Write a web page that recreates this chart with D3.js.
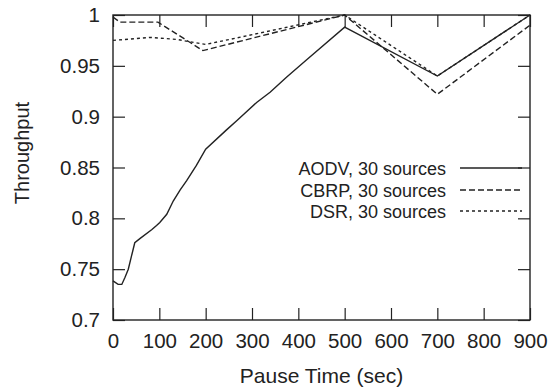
<!DOCTYPE html>
<html><head><meta charset="utf-8">
<script src="https://cdn.jsdelivr.net/npm/d3@7"></script>
<style>body{margin:0;background:#fff}text{font-family:"Liberation Sans",Arial,sans-serif;fill:#222}</style>
</head><body><svg id="c" width="548" height="390"></svg>
<script>
const xTicks=[0,100,200,300,400,500,600,700,800,900];
const yTicks=[0.7,0.75,0.8,0.85,0.9,0.95,1];
const yTickLabels=["0.7","0.75","0.8","0.85","0.9","0.95","1"];
const aodvX=[0,11,19,26,33,40,47,58,84,94,101,116,130,145,159,180,200,245,267,310,339,375,418,500,700,900];
const aodvY=[0.7385,0.735,0.735,0.742,0.75,0.763,0.776,0.78,0.789,0.793,0.796,0.804,0.817,0.828,0.837,0.852,0.868,0.887,0.896,0.914,0.924,0.939,0.956,0.988,0.94,1.0];
const cbrpX=[0,15,97,194,500,700,900];
const cbrpY=[0.998,0.993,0.993,0.965,1.0,0.922,0.99];
const dsrX=[0,80,137,200,500,700,900];
const dsrY=[0.975,0.978,0.976,0.971,1.0,0.94,1.0];
const seriesNames=["AODV, 30 sources","CBRP, 30 sources","DSR, 30 sources"];
const dashes=[null,"6,3","3,3"];

const svg=d3.select("#c");
const L=113,R=530,T=15,B=320;
const x=d3.scaleLinear().domain([0,900]).range([L,R]);
const y=d3.scaleLinear().domain([0.7,1]).range([B,T]);
const ink="#222";
const gx=svg.append("g").attr("transform",`translate(0,${B})`)
 .call(d3.axisBottom(x).tickValues(xTicks).tickSize(-12).tickPadding(13).tickFormat(d3.format("d")));
const gxt=svg.append("g").attr("transform",`translate(0,${T})`)
 .call(d3.axisTop(x).tickValues(xTicks).tickSize(-12).tickFormat(""));
const gy=svg.append("g").attr("transform",`translate(${L},0)`)
 .call(d3.axisLeft(y).tickValues(yTicks).tickSize(-12).tickPadding(13).tickFormat((d,i)=>yTickLabels[i]));
const gyr=svg.append("g").attr("transform",`translate(${R},0)`)
 .call(d3.axisRight(y).tickValues(yTicks).tickSize(-12).tickFormat(""));
[gx,gxt,gy,gyr].forEach(g=>{g.select(".domain").remove();g.selectAll("line").attr("stroke",ink).attr("stroke-width",1.2);
 g.selectAll("text").style("font-size","20.5px").style("font-family","'Liberation Sans',Arial,sans-serif").attr("fill",ink);});
svg.append("rect").attr("x",L).attr("y",T).attr("width",R-L).attr("height",B-T).attr("fill","none").attr("stroke",ink).attr("stroke-width",1.4);

const line=d3.line().x(d=>x(d[0])).y(d=>y(d[1]));
const data=[d3.zip(aodvX,aodvY),d3.zip(cbrpX,cbrpY),d3.zip(dsrX,dsrY)];
data.forEach((d,i)=>{
 svg.append("path").datum(d).attr("d",line).attr("fill","none").attr("stroke",ink).attr("stroke-width",1.4)
  .attr("stroke-dasharray",dashes[i]);
});
const ly=[175,197,218];
seriesNames.forEach((n,i)=>{
 svg.append("text").attr("x",446).attr("y",ly[i]).attr("text-anchor","end").style("font-size","18px").text(n);
 svg.append("line").attr("x1",460).attr("x2",522).attr("y1",ly[i]-7).attr("y2",ly[i]-7)
  .attr("stroke",ink).attr("stroke-width",1.3).attr("stroke-dasharray",dashes[i]);
});
svg.append("text").attr("x",(L+R)/2).attr("y",383).attr("text-anchor","middle").style("font-size","21px").text("Pause Time (sec)");
svg.append("text").attr("transform","translate(29,153) rotate(-90)").attr("text-anchor","middle").style("font-size","20px").text("Throughput");
</script></body></html>
